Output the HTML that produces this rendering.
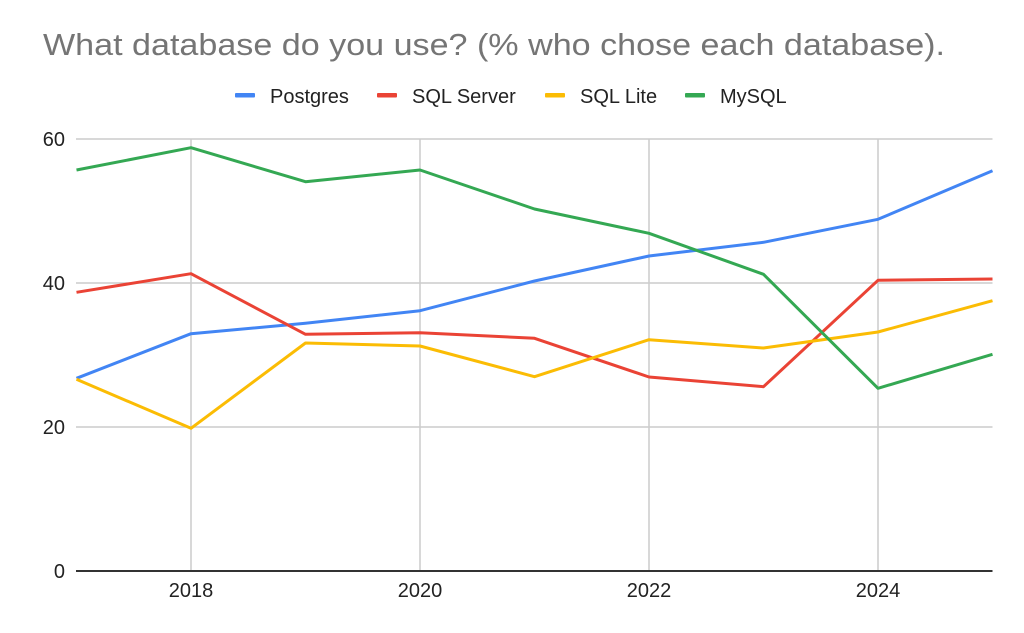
<!DOCTYPE html>
<html>
<head>
<meta charset="utf-8">
<style>
  html, body { margin: 0; padding: 0; background: #ffffff; }
  body { width: 1024px; height: 633px; overflow: hidden; }
  svg { display: block; }
  text { font-family: "Liberation Sans", Arial, sans-serif; }
</style>
</head>
<body>
<svg width="1024" height="633" viewBox="0 0 1024 633" xmlns="http://www.w3.org/2000/svg">
  <rect x="0" y="0" width="1024" height="633" fill="#ffffff"/>

  <!-- Title -->
  <text x="43" y="55" font-size="31" fill="#757575" textLength="902" lengthAdjust="spacingAndGlyphs">What database do you use? (% who chose each database).</text>

  <!-- Legend -->
  <rect x="235" y="93" width="20" height="4.5" rx="1" fill="#4285F4"/>
  <text x="270" y="103" font-size="20" fill="#222222">Postgres</text>
  <rect x="377" y="93" width="20" height="4.5" rx="1" fill="#EA4335"/>
  <text x="412" y="103" font-size="20" fill="#222222">SQL Server</text>
  <rect x="545" y="93" width="20" height="4.5" rx="1" fill="#FBBC04"/>
  <text x="580" y="103" font-size="20" fill="#222222">SQL Lite</text>
  <rect x="685" y="93" width="20" height="4.5" rx="1" fill="#34A853"/>
  <text x="720" y="103" font-size="20" fill="#222222">MySQL</text>

  <!-- Gridlines -->
  <g stroke="#cccccc" stroke-width="1.5" fill="none">
    <line x1="76" y1="139" x2="992.5" y2="139"/>
    <line x1="76" y1="283" x2="992.5" y2="283"/>
    <line x1="76" y1="427" x2="992.5" y2="427"/>
    <line x1="191" y1="139" x2="191" y2="571"/>
    <line x1="420" y1="139" x2="420" y2="571"/>
    <line x1="649" y1="139" x2="649" y2="571"/>
    <line x1="878" y1="139" x2="878" y2="571"/>
  </g>

  <!-- Zero axis -->
  <line x1="76" y1="571" x2="992.5" y2="571" stroke="#333333" stroke-width="2"/>

  <!-- Y labels -->
  <g font-size="20" fill="#222222" text-anchor="end">
    <text x="65" y="146">60</text>
    <text x="65" y="290">40</text>
    <text x="65" y="434">20</text>
    <text x="65" y="578">0</text>
  </g>

  <!-- X labels -->
  <g font-size="20" fill="#222222" text-anchor="middle">
    <text x="191" y="597">2018</text>
    <text x="420" y="597">2020</text>
    <text x="649" y="597">2022</text>
    <text x="878" y="597">2024</text>
  </g>

  <!-- Series -->
  <g fill="none" stroke-width="3" stroke-linejoin="round" stroke-linecap="butt">
    <polyline stroke="#4285F4" points="76.5,378.3 191,333.7 305.5,323.3 420,310.7 534.5,281 649,256 763.5,242.3 878,219.3 992.5,170.7"/>
    <polyline stroke="#EA4335" points="76.5,292.3 191,273.7 305.5,334.3 420,332.7 534.5,338.3 649,377 763.5,386.7 878,280.3 992.5,279"/>
    <polyline stroke="#FBBC04" points="76.5,379.3 191,428.3 305.5,343 420,346 534.5,376.7 649,339.7 763.5,348 878,332 992.5,300.7"/>
    <polyline stroke="#34A853" points="76.5,170 191,147.7 305.5,181.7 420,170 534.5,209 649,233.3 763.5,274.3 878,388.3 992.5,354.3"/>
  </g>
</svg>
</body>
</html>
